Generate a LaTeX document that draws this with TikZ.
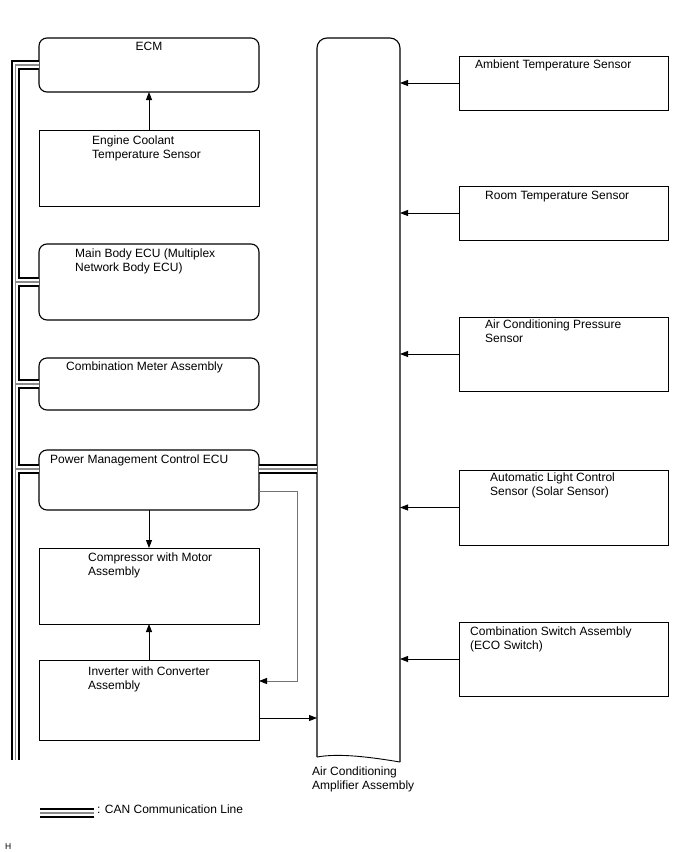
\documentclass[tikz,border=0pt]{standalone}
\usepackage{fontspec}
\setmainfont{Liberation Sans}
\usetikzlibrary{arrows.meta,calc}
\begin{document}
\begin{tikzpicture}[x=1pt,y=-1pt,
  box/.style={draw, line width=0.95pt, minimum width=220pt, inner sep=0pt, outer sep=0pt, anchor=north west},
  rbox/.style={box, line width=1.1pt, rounded corners=8pt},
  sbox/.style={box, minimum width=209pt},
  lbl/.style={anchor=base west, inner sep=0pt, align=left, font=\fontsize{12}{14}\selectfont},
  arr/.style={-{Triangle[length=8pt,width=6pt]}, line width=0.9pt},
  garr/.style={draw=black!55, line width=0.9pt, -{Triangle[length=8pt,width=6pt,color=black]}}]
\useasboundingbox (0,0) rectangle (688,852);
\fill[white] (0,0) rectangle (688,852);

% left boxes
\node[rbox, minimum height=54pt] (ecm) at (39,38) {};
\node[box,  minimum height=76pt] (ect) at (39,130) {};
\node[rbox, minimum height=76pt] (mbe) at (39,244) {};
\node[rbox, minimum height=52pt] (cma) at (39,358) {};
\node[rbox, minimum height=60pt] (pmc) at (39,450) {};
\node[box,  minimum height=76pt] (cmp) at (39,548) {};
\node[box,  minimum height=80pt] (inv) at (39,660) {};

% right boxes
\node[sbox, minimum height=54pt] (amb)  at (459,56) {};
\node[sbox, minimum height=54pt] (room) at (459,186) {};
\node[sbox, minimum height=74pt] (acp)  at (459,317) {};
\node[sbox, minimum height=75pt] (als)  at (459,470) {};
\node[sbox, minimum height=74pt] (csw)  at (459,622) {};

% amplifier
\node[minimum width=83pt, minimum height=722pt, inner sep=0pt, outer sep=0pt, anchor=north west] (amp) at (317,38) {};
\draw[line width=1.1pt, rounded corners=10pt] ($(amp.south west)+(0,-3)$) -- (amp.north west) -- (amp.north east) -- ($(amp.south east)+(0,2)$);
\draw[line width=0.9pt] ($(amp.south west)+(0,-3)$) .. controls +(22,-4) and +(-30,-5) .. ($(amp.south east)+(0,2)$);

% labels (multi-line nodes: base = last line)
\node[lbl, anchor=base] (tecm) at (149,50) {ECM};
\node[lbl] (tect) at (92,158) {Engine Coolant\\Temperature Sensor};
\node[lbl] (tmbe) at (75,271) {Main Body ECU (Multiplex\\Network Body ECU)};
\node[lbl] (tcma) at (66,370) {Combination Meter Assembly};
\node[lbl] (tpmc) at (50,463) {Power Management Control ECU};
\node[lbl] (tcmp) at (88,575) {Compressor with Motor\\Assembly};
\node[lbl] (tinv) at (88,689) {Inverter with Converter\\Assembly};
\node[lbl] (tamb) at (475,68) {Ambient Temperature Sensor};
\node[lbl] (troom) at (485,199) {Room Temperature Sensor};
\node[lbl] (tacp) at (485,342) {Air Conditioning Pressure\\Sensor};
\node[lbl] (tals) at (490,495) {Automatic Light Control\\Sensor (Solar Sensor)};
\node[lbl] (tcsw) at (470,649) {Combination Switch Assembly\\(ECO Switch)};
\node[lbl] (tamp) at (312,789) {Air Conditioning\\Amplifier Assembly};
\node[lbl] (tleg) at (97,813) {: CAN Communication Line};
\node[lbl, font=\fontsize{8.5}{9}\selectfont] (th) at (5,849) {H};

% sensor arrows
\foreach \s in {amb,room,acp,als,csw}
  \draw[arr] (\s.west) -- (\s.west -| amp.east);

% internal arrows
\draw[arr] (ect.north) -- (ecm.south);
\draw[arr] (pmc.south) -- (cmp.north);
\draw[arr] (inv.north) -- (cmp.south);
\coordinate (g1) at (297,491);
\coordinate (g2) at (297,681);
\draw[garr] (pmc.east |- g1) -- (g1) -- (g2) -- (inv.east |- g2);
\coordinate (i1) at (259,718);
\draw[arr] (inv.east |- i1) -- (amp.west |- i1);

% CAN bus
\coordinate (busend) at (15.5,760);
\coordinate (pcan) at (0,469);
\coordinate (lg1) at (40,813);
\coordinate (lg2) at (94,813);
\foreach \w/\c in {9.5/black,5.5/white,1.5/black!45}
  \draw[line width=\w pt, draw=\c]
    (ecm.west) -| (busend)
    (busend |- mbe.west) -- (mbe.west)
    (busend |- cma.west) -- (cma.west)
    (busend |- pcan) -- (pmc.west |- pcan)
    (pmc.east |- pcan) -- (amp.west |- pcan)
    (lg1) -- (lg2);
\end{tikzpicture}
\end{document}
